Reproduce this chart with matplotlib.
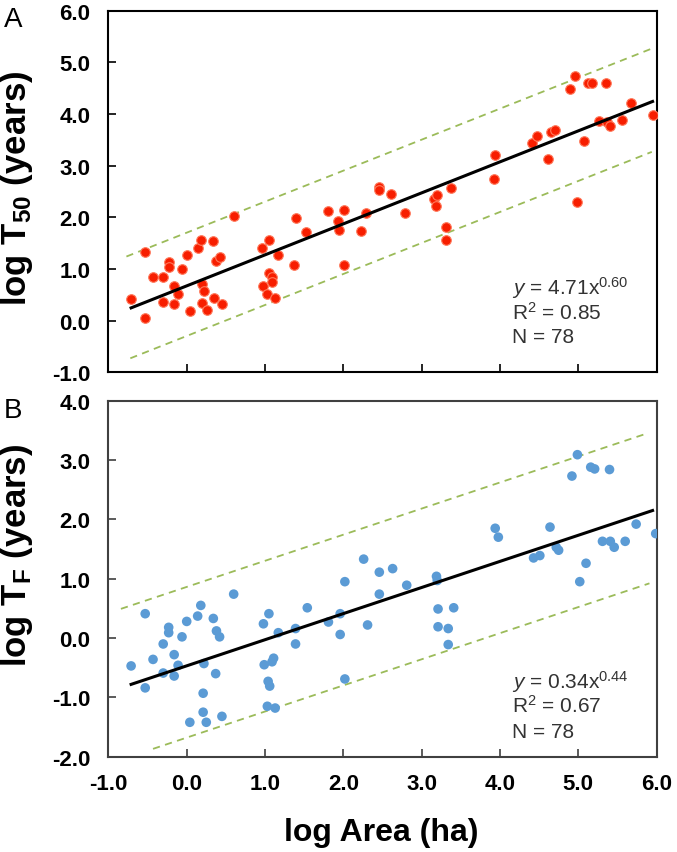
import matplotlib
matplotlib.use("Agg")
import matplotlib.pyplot as plt
import numpy as np

plt.rcParams["font.family"] = ["Liberation Sans", "DejaVu Sans"]
plt.rcParams["mathtext.fontset"] = "custom"
plt.rcParams["mathtext.rm"] = "Liberation Sans"
plt.rcParams["mathtext.it"] = "Liberation Sans:italic"
plt.rcParams["mathtext.bf"] = "Liberation Sans:bold"

RED = "#f71e00"; RED_EDGE = "#ff7a5c"; BLUE = "#5b9bd5"
GREEN = "#9bbb59"; TXT = "#333333"

# ---- panel A : log T50 vs log Area ----
t50_x = [-0.71, -0.53, -0.53, -0.43, -0.30, -0.30, -0.23, -0.23, -0.16, -0.16,
         -0.11, -0.06, 0.00, 0.04, 0.14, 0.18, 0.19, 0.19, 0.22, 0.26,
         0.34, 0.35, 0.37, 0.42, 0.45, 0.60, 0.96, 0.98, 1.03, 1.05,
         1.05, 1.09, 1.09, 1.13, 1.17, 1.37, 1.39, 1.53, 1.80, 1.93,
         1.94, 2.01, 2.01, 2.22, 2.29, 2.45, 2.45, 2.61, 2.79, 3.16,
         3.20, 3.19, 3.31, 3.31, 3.37, 3.92, 3.94, 4.41, 4.48, 4.61,
         4.65, 4.71, 4.89, 4.96, 4.99, 5.07, 5.13, 5.17, 5.27, 5.36,
         5.37, 5.41, 5.56, 5.68, 5.95]
t50_y = [0.41, 1.32, 0.05, 0.84, 0.84, 0.36, 1.13, 1.03, 0.68, 0.32,
         0.52, 1.00, 1.27, 0.19, 1.40, 1.57, 0.70, 0.34, 0.58, 0.21,
         1.54, 0.43, 1.16, 1.23, 0.32, 2.02, 1.40, 0.68, 0.52, 1.57,
         0.92, 0.84, 0.74, 0.43, 1.27, 1.08, 1.99, 1.71, 2.13, 1.93,
         1.75, 2.15, 1.08, 1.73, 2.08, 2.58, 2.53, 2.46, 2.08, 2.35,
         2.43, 2.21, 1.81, 1.57, 2.56, 2.74, 3.21, 3.43, 3.58, 3.12,
         3.66, 3.69, 4.49, 4.74, 2.29, 3.47, 4.61, 4.61, 3.86, 4.61,
         3.84, 3.77, 3.89, 4.22, 3.98]
t50_coef, t50_exp = 4.71, 0.60
t50_band = [1.03, -0.97]          # offsets of the dashed bounds
t50_band_x = [(-0.77, 5.94), (-0.72, 5.94)]
t50_fit_x = (-0.71, 5.95)
t50_text = ["$y$ = 4.71x$^{0.60}$", "R$^2$ = 0.85", "N = 78"]

# ---- panel B : log TF vs log Area ----
tf_x = [-0.71, -0.53, -0.53, -0.43, -0.30, -0.30, -0.23, -0.23, -0.16, -0.16,
        -0.11, -0.06, 0.00, 0.04, 0.14, 0.18, 0.21, 0.21, 0.22, 0.25,
        0.34, 0.38, 0.42, 0.37, 0.45, 0.60, 0.98, 0.99, 1.05, 1.04,
        1.06, 1.03, 1.09, 1.11, 1.13, 1.17, 1.39, 1.39, 1.54, 1.81,
        1.96, 1.96, 2.02, 2.02, 2.26, 2.31, 2.46, 2.46, 2.63, 2.81,
        3.19, 3.20, 3.21, 3.41, 3.21, 3.34, 3.34, 3.94, 3.98, 4.43,
        4.51, 4.64, 4.72, 4.75, 4.92, 4.99, 5.02, 5.10, 5.16, 5.21,
        5.31, 5.40, 5.41, 5.46, 5.60, 5.74, 5.99]
tf_y = [-0.47, 0.41, -0.84, -0.36, -0.10, -0.59, 0.18, 0.09, -0.28, -0.64,
        -0.46, 0.02, 0.28, -1.42, 0.37, 0.55, -0.93, -1.25, -0.43, -1.42,
        0.33, 0.12, 0.02, -0.60, -1.32, 0.74, 0.24, -0.45, 0.41, -0.73,
        -0.81, -1.15, -0.40, -0.34, -1.18, 0.09, 0.16, -0.10, 0.51, 0.27,
        0.41, 0.06, 0.95, -0.69, 1.33, 0.22, 1.11, 0.74, 1.17, 0.89,
        1.04, 0.97, 0.49, 0.51, 0.19, 0.16, -0.11, 1.85, 1.70, 1.35,
        1.39, 1.87, 1.53, 1.48, 2.73, 3.09, 0.95, 1.26, 2.88, 2.85,
        1.63, 2.84, 1.63, 1.53, 1.63, 1.92, 1.76]
tf_coef, tf_exp = 0.34, 0.44
tf_band = [1.33, -1.21]
tf_band_x = [(-0.84, 5.87), (-0.43, 5.91)]
tf_fit_x = (-0.71, 5.95)
tf_text = ["$y$ = 0.34x$^{0.44}$", "R$^2$ = 0.67", "N = 78"]

x_ticks = [-1.0, 0.0, 1.0, 2.0, 3.0, 4.0, 5.0, 6.0]

W, H = 677, 853
fig = plt.figure(figsize=(W / 100, H / 100), dpi=100)
L, R = 108.4, 656.5
ax1 = fig.add_axes([L / W, 1 - 373.3 / H, (R - L) / W, (373.3 - 11.7) / H])
ax2 = fig.add_axes([L / W, 1 - 757.7 / H, (R - L) / W, (757.7 - 401.7) / H])


def panel(ax, xs, ys, coef, expo, band, band_x, fit_x, texts, fc, ec,
          ylim, spine_col, text_y):
    ax.scatter(xs, ys, s=48, color=fc, edgecolors=ec, linewidths=0.8, zorder=3)
    b0 = np.log10(coef)
    fx = np.array(fit_x)
    ax.plot(fx, b0 + expo * fx, color="black", lw=2.2, zorder=4)
    for off, bx in zip(band, band_x):
        bx = np.array(bx)
        ax.plot(bx, b0 + off + expo * bx, color=GREEN, lw=1.3,
                ls=(0, (4, 3)), zorder=2)
    ax.set_xlim(-1, 6)
    ax.set_ylim(*ylim)
    ax.set_xticks(x_ticks)
    yt = np.arange(ylim[0], ylim[1] + 0.5, 1.0)
    ax.set_yticks(yt)
    ax.set_yticklabels([f"{v:.1f}" for v in yt], fontweight="bold", fontsize=16)
    ax.tick_params(direction="in", length=6, width=1.2, colors=spine_col,
                   labelcolor="black", pad=13)
    for s in ax.spines.values():
        s.set_color(spine_col); s.set_linewidth(1.5)
    for t, ty in zip(texts, text_y):
        ax.text(0.736, ty, t, transform=ax.transAxes, fontsize=15,
                color=TXT, va="center", ha="left")


panel(ax1, t50_x, t50_y, t50_coef, t50_exp, t50_band, t50_band_x, t50_fit_x,
      t50_text, RED, RED_EDGE, (-1.0, 6.0), "black", [0.236, 0.167, 0.098])
ax1.set_xticklabels([])

panel(ax2, tf_x, tf_y, tf_coef, tf_exp, tf_band, tf_band_x, tf_fit_x,
      tf_text, BLUE, "none", (-2.0, 4.0), "#404040", [0.213, 0.146, 0.070])
ax2.set_xticklabels([f"{v:.1f}" for v in x_ticks], fontweight="bold", fontsize=16)
ax2.tick_params(axis="x", pad=12)

fig.text(17 / W, 1 - 188 / H, r"log T$_{\mathbf{50}}$ (years)", rotation=90,
         ha="center", va="center", fontsize=25, fontweight="bold")
fig.text(17 / W, 1 - 555 / H, r"log T$_{\mathbf{F}}$ (years)", rotation=90,
         ha="center", va="center", fontsize=25, fontweight="bold")
fig.text(381 / W, 1 - 833 / H, "log Area (ha)", ha="center", va="center",
         fontsize=23, fontweight="bold")
fig.text(13 / W, 1 - 20 / H, "A", ha="center", va="center", fontsize=20)
fig.text(13 / W, 1 - 411 / H, "B", ha="center", va="center", fontsize=20)

fig.savefig("out.png", dpi=100)
